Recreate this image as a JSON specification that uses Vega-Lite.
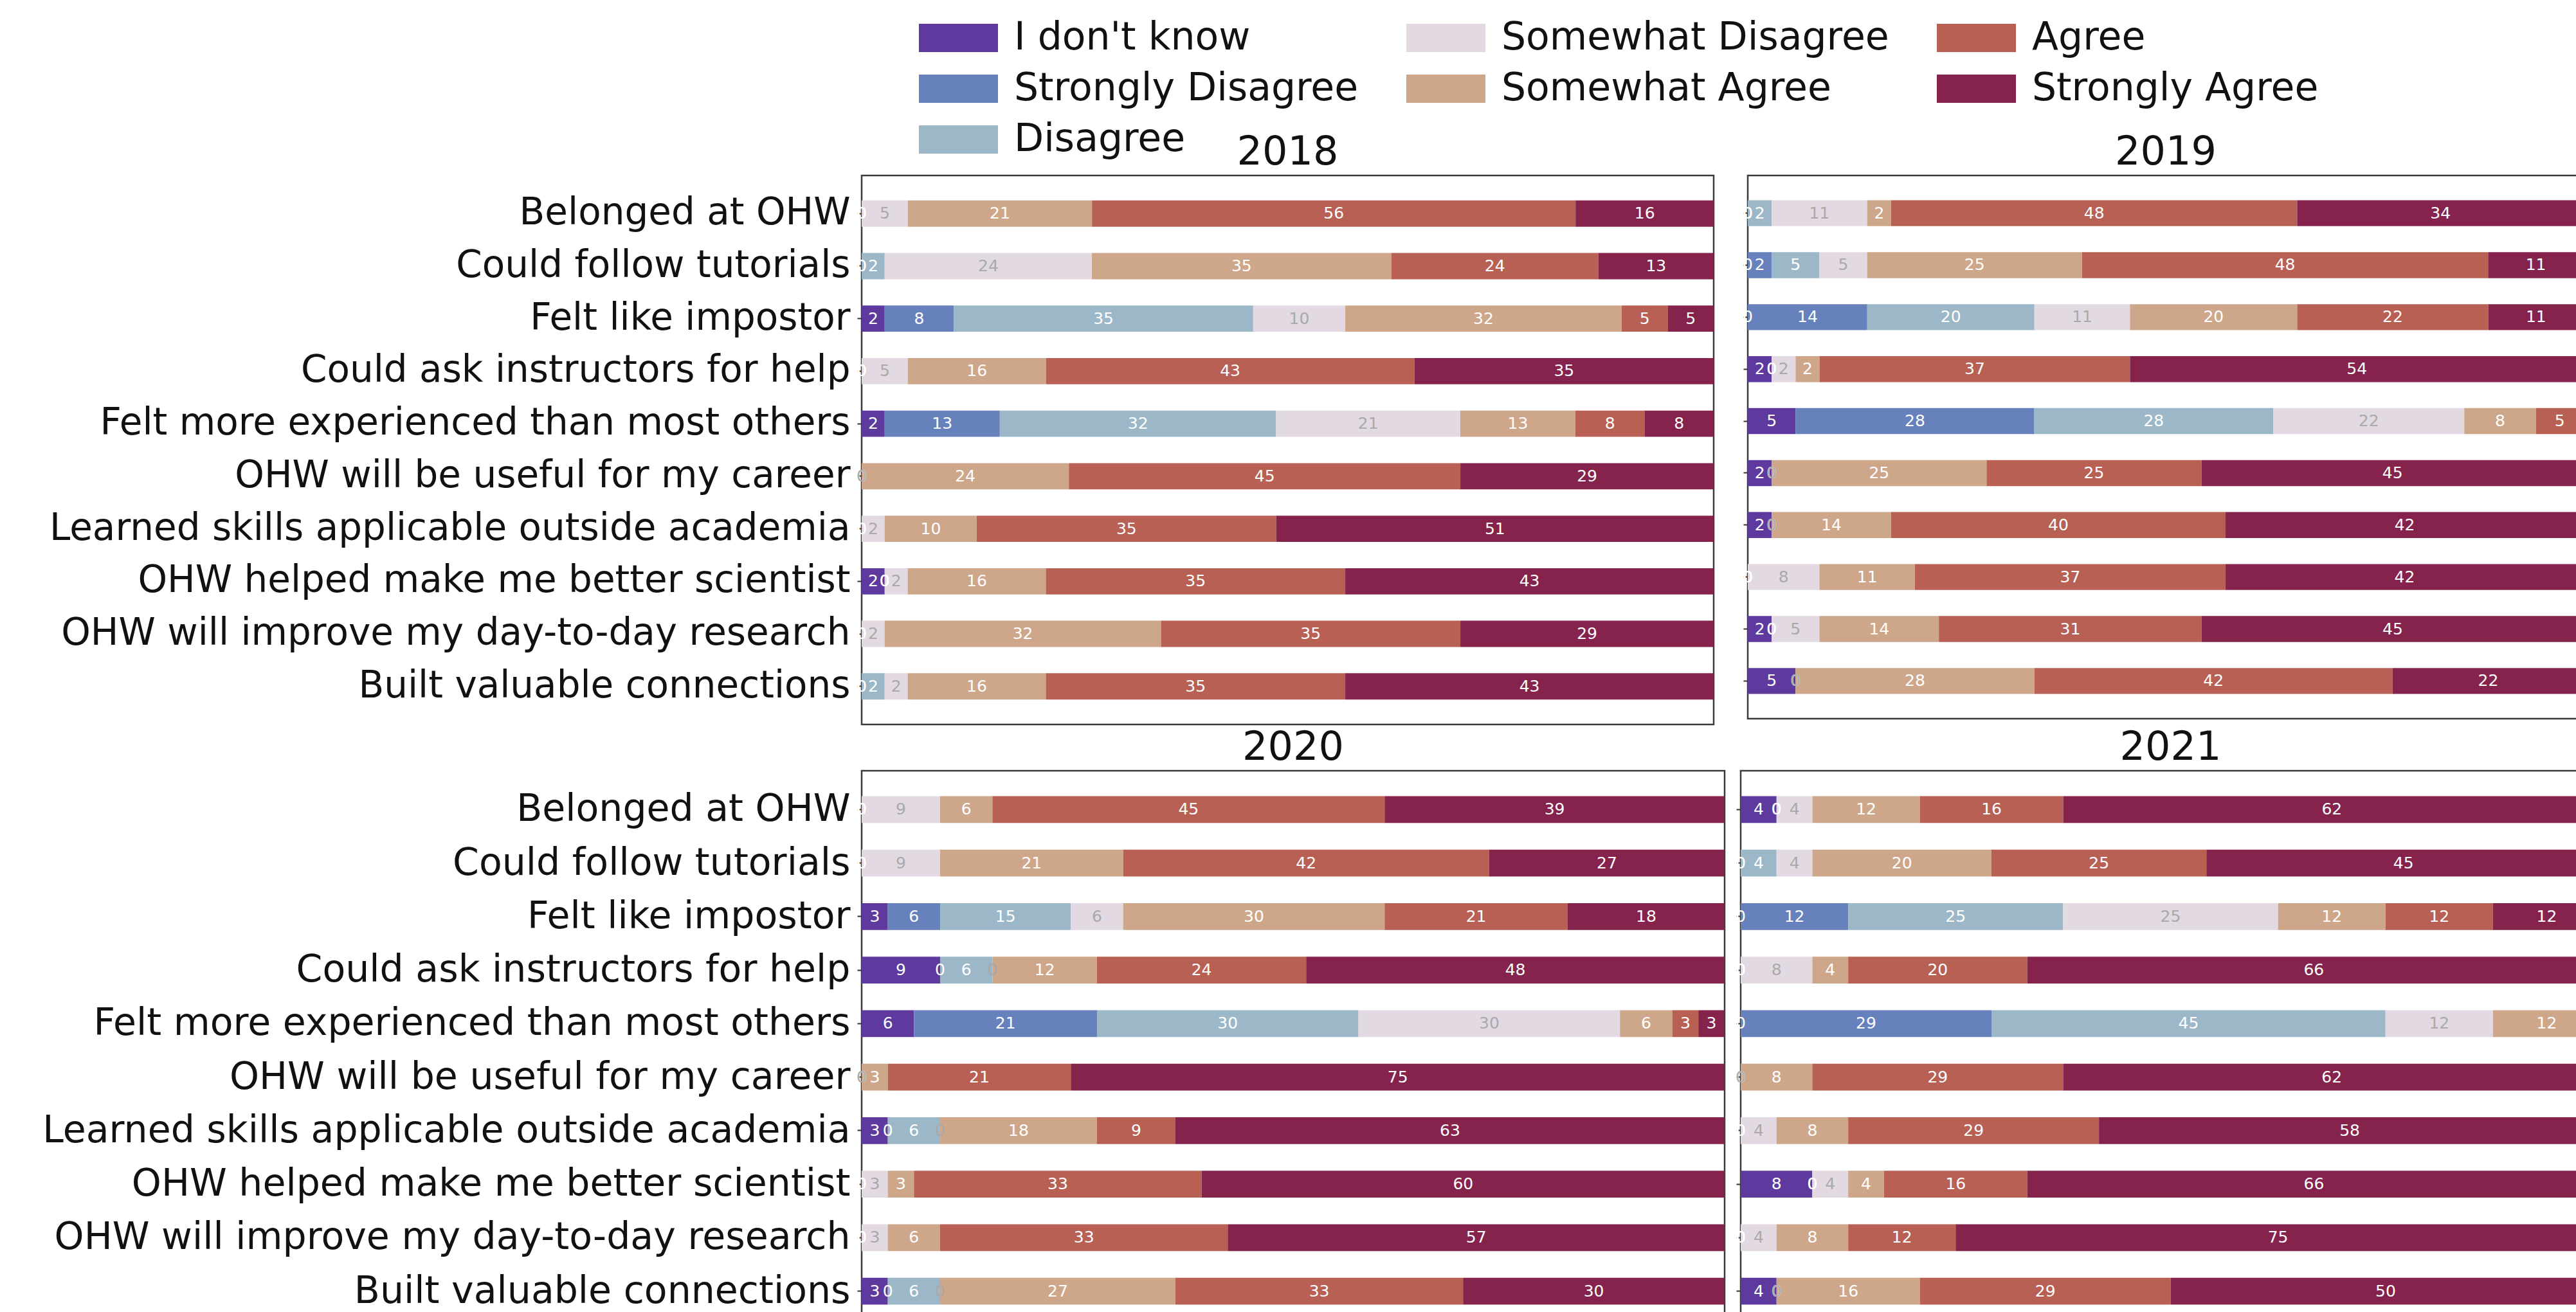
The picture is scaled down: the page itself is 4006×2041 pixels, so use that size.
{
  "$schema": "https://vega.github.io/schema/vega-lite/v6.json",
  "background": "white",
  "padding": {"left": 64, "top": 29, "right": 0, "bottom": 0},
  "datasets": {
    "ranks": [
      {"c": "I don't know", "k": 0},
      {"c": "Strongly Disagree", "k": 1},
      {"c": "Disagree", "k": 2},
      {"c": "Somewhat Disagree", "k": 3},
      {"c": "Somewhat Agree", "k": 4},
      {"c": "Agree", "k": 5},
      {"c": "Strongly Agree", "k": 6}
    ],
    "survey": [
      {"yr":2018,"q":"Belonged at OHW","c":"I don't know","v":0,"l":0},
      {"yr":2018,"q":"Belonged at OHW","c":"Strongly Disagree","v":0,"l":0},
      {"yr":2018,"q":"Belonged at OHW","c":"Disagree","v":0,"l":0},
      {"yr":2018,"q":"Belonged at OHW","c":"Somewhat Disagree","v":5.41,"l":5},
      {"yr":2018,"q":"Belonged at OHW","c":"Somewhat Agree","v":21.62,"l":21},
      {"yr":2018,"q":"Belonged at OHW","c":"Agree","v":56.76,"l":56},
      {"yr":2018,"q":"Belonged at OHW","c":"Strongly Agree","v":16.22,"l":16},
      {"yr":2018,"q":"Could follow tutorials","c":"I don't know","v":0,"l":0},
      {"yr":2018,"q":"Could follow tutorials","c":"Strongly Disagree","v":0,"l":0},
      {"yr":2018,"q":"Could follow tutorials","c":"Disagree","v":2.70,"l":2},
      {"yr":2018,"q":"Could follow tutorials","c":"Somewhat Disagree","v":24.32,"l":24},
      {"yr":2018,"q":"Could follow tutorials","c":"Somewhat Agree","v":35.14,"l":35},
      {"yr":2018,"q":"Could follow tutorials","c":"Agree","v":24.32,"l":24},
      {"yr":2018,"q":"Could follow tutorials","c":"Strongly Agree","v":13.51,"l":13},
      {"yr":2018,"q":"Felt like impostor","c":"I don't know","v":2.70,"l":2},
      {"yr":2018,"q":"Felt like impostor","c":"Strongly Disagree","v":8.11,"l":8},
      {"yr":2018,"q":"Felt like impostor","c":"Disagree","v":35.14,"l":35},
      {"yr":2018,"q":"Felt like impostor","c":"Somewhat Disagree","v":10.81,"l":10},
      {"yr":2018,"q":"Felt like impostor","c":"Somewhat Agree","v":32.43,"l":32},
      {"yr":2018,"q":"Felt like impostor","c":"Agree","v":5.41,"l":5},
      {"yr":2018,"q":"Felt like impostor","c":"Strongly Agree","v":5.41,"l":5},
      {"yr":2018,"q":"Could ask instructors for help","c":"I don't know","v":0,"l":0},
      {"yr":2018,"q":"Could ask instructors for help","c":"Strongly Disagree","v":0,"l":0},
      {"yr":2018,"q":"Could ask instructors for help","c":"Disagree","v":0,"l":0},
      {"yr":2018,"q":"Could ask instructors for help","c":"Somewhat Disagree","v":5.41,"l":5},
      {"yr":2018,"q":"Could ask instructors for help","c":"Somewhat Agree","v":16.22,"l":16},
      {"yr":2018,"q":"Could ask instructors for help","c":"Agree","v":43.24,"l":43},
      {"yr":2018,"q":"Could ask instructors for help","c":"Strongly Agree","v":35.14,"l":35},
      {"yr":2018,"q":"Felt more experienced than most others","c":"I don't know","v":2.70,"l":2},
      {"yr":2018,"q":"Felt more experienced than most others","c":"Strongly Disagree","v":13.51,"l":13},
      {"yr":2018,"q":"Felt more experienced than most others","c":"Disagree","v":32.43,"l":32},
      {"yr":2018,"q":"Felt more experienced than most others","c":"Somewhat Disagree","v":21.62,"l":21},
      {"yr":2018,"q":"Felt more experienced than most others","c":"Somewhat Agree","v":13.51,"l":13},
      {"yr":2018,"q":"Felt more experienced than most others","c":"Agree","v":8.11,"l":8},
      {"yr":2018,"q":"Felt more experienced than most others","c":"Strongly Agree","v":8.11,"l":8},
      {"yr":2018,"q":"OHW will be useful for my career","c":"I don't know","v":0,"l":0},
      {"yr":2018,"q":"OHW will be useful for my career","c":"Strongly Disagree","v":0,"l":0},
      {"yr":2018,"q":"OHW will be useful for my career","c":"Disagree","v":0,"l":0},
      {"yr":2018,"q":"OHW will be useful for my career","c":"Somewhat Disagree","v":0,"l":0},
      {"yr":2018,"q":"OHW will be useful for my career","c":"Somewhat Agree","v":24.32,"l":24},
      {"yr":2018,"q":"OHW will be useful for my career","c":"Agree","v":45.95,"l":45},
      {"yr":2018,"q":"OHW will be useful for my career","c":"Strongly Agree","v":29.73,"l":29},
      {"yr":2018,"q":"Learned skills applicable outside academia","c":"I don't know","v":0,"l":0},
      {"yr":2018,"q":"Learned skills applicable outside academia","c":"Strongly Disagree","v":0,"l":0},
      {"yr":2018,"q":"Learned skills applicable outside academia","c":"Disagree","v":0,"l":0},
      {"yr":2018,"q":"Learned skills applicable outside academia","c":"Somewhat Disagree","v":2.70,"l":2},
      {"yr":2018,"q":"Learned skills applicable outside academia","c":"Somewhat Agree","v":10.81,"l":10},
      {"yr":2018,"q":"Learned skills applicable outside academia","c":"Agree","v":35.14,"l":35},
      {"yr":2018,"q":"Learned skills applicable outside academia","c":"Strongly Agree","v":51.35,"l":51},
      {"yr":2018,"q":"OHW helped make me better scientist","c":"I don't know","v":2.70,"l":2},
      {"yr":2018,"q":"OHW helped make me better scientist","c":"Strongly Disagree","v":0,"l":0},
      {"yr":2018,"q":"OHW helped make me better scientist","c":"Disagree","v":0,"l":0},
      {"yr":2018,"q":"OHW helped make me better scientist","c":"Somewhat Disagree","v":2.70,"l":2},
      {"yr":2018,"q":"OHW helped make me better scientist","c":"Somewhat Agree","v":16.22,"l":16},
      {"yr":2018,"q":"OHW helped make me better scientist","c":"Agree","v":35.14,"l":35},
      {"yr":2018,"q":"OHW helped make me better scientist","c":"Strongly Agree","v":43.24,"l":43},
      {"yr":2018,"q":"OHW will improve my day-to-day research","c":"I don't know","v":0,"l":0},
      {"yr":2018,"q":"OHW will improve my day-to-day research","c":"Strongly Disagree","v":0,"l":0},
      {"yr":2018,"q":"OHW will improve my day-to-day research","c":"Disagree","v":0,"l":0},
      {"yr":2018,"q":"OHW will improve my day-to-day research","c":"Somewhat Disagree","v":2.70,"l":2},
      {"yr":2018,"q":"OHW will improve my day-to-day research","c":"Somewhat Agree","v":32.43,"l":32},
      {"yr":2018,"q":"OHW will improve my day-to-day research","c":"Agree","v":35.14,"l":35},
      {"yr":2018,"q":"OHW will improve my day-to-day research","c":"Strongly Agree","v":29.73,"l":29},
      {"yr":2018,"q":"Built valuable connections","c":"I don't know","v":0,"l":0},
      {"yr":2018,"q":"Built valuable connections","c":"Strongly Disagree","v":0,"l":0},
      {"yr":2018,"q":"Built valuable connections","c":"Disagree","v":2.70,"l":2},
      {"yr":2018,"q":"Built valuable connections","c":"Somewhat Disagree","v":2.70,"l":2},
      {"yr":2018,"q":"Built valuable connections","c":"Somewhat Agree","v":16.22,"l":16},
      {"yr":2018,"q":"Built valuable connections","c":"Agree","v":35.14,"l":35},
      {"yr":2018,"q":"Built valuable connections","c":"Strongly Agree","v":43.24,"l":43},

      {"yr":2019,"q":"Belonged at OHW","c":"I don't know","v":0,"l":0},
      {"yr":2019,"q":"Belonged at OHW","c":"Strongly Disagree","v":0,"l":0},
      {"yr":2019,"q":"Belonged at OHW","c":"Disagree","v":2.86,"l":2},
      {"yr":2019,"q":"Belonged at OHW","c":"Somewhat Disagree","v":11.43,"l":11},
      {"yr":2019,"q":"Belonged at OHW","c":"Somewhat Agree","v":2.86,"l":2},
      {"yr":2019,"q":"Belonged at OHW","c":"Agree","v":48.57,"l":48},
      {"yr":2019,"q":"Belonged at OHW","c":"Strongly Agree","v":34.29,"l":34},
      {"yr":2019,"q":"Could follow tutorials","c":"I don't know","v":0,"l":0},
      {"yr":2019,"q":"Could follow tutorials","c":"Strongly Disagree","v":2.86,"l":2},
      {"yr":2019,"q":"Could follow tutorials","c":"Disagree","v":5.71,"l":5},
      {"yr":2019,"q":"Could follow tutorials","c":"Somewhat Disagree","v":5.71,"l":5},
      {"yr":2019,"q":"Could follow tutorials","c":"Somewhat Agree","v":25.71,"l":25},
      {"yr":2019,"q":"Could follow tutorials","c":"Agree","v":48.57,"l":48},
      {"yr":2019,"q":"Could follow tutorials","c":"Strongly Agree","v":11.43,"l":11},
      {"yr":2019,"q":"Felt like impostor","c":"I don't know","v":0,"l":0},
      {"yr":2019,"q":"Felt like impostor","c":"Strongly Disagree","v":14.29,"l":14},
      {"yr":2019,"q":"Felt like impostor","c":"Disagree","v":20.00,"l":20},
      {"yr":2019,"q":"Felt like impostor","c":"Somewhat Disagree","v":11.43,"l":11},
      {"yr":2019,"q":"Felt like impostor","c":"Somewhat Agree","v":20.00,"l":20},
      {"yr":2019,"q":"Felt like impostor","c":"Agree","v":22.86,"l":22},
      {"yr":2019,"q":"Felt like impostor","c":"Strongly Agree","v":11.43,"l":11},
      {"yr":2019,"q":"Could ask instructors for help","c":"I don't know","v":2.86,"l":2},
      {"yr":2019,"q":"Could ask instructors for help","c":"Strongly Disagree","v":0,"l":0},
      {"yr":2019,"q":"Could ask instructors for help","c":"Disagree","v":0,"l":0},
      {"yr":2019,"q":"Could ask instructors for help","c":"Somewhat Disagree","v":2.86,"l":2},
      {"yr":2019,"q":"Could ask instructors for help","c":"Somewhat Agree","v":2.86,"l":2},
      {"yr":2019,"q":"Could ask instructors for help","c":"Agree","v":37.14,"l":37},
      {"yr":2019,"q":"Could ask instructors for help","c":"Strongly Agree","v":54.29,"l":54},
      {"yr":2019,"q":"Felt more experienced than most others","c":"I don't know","v":5.71,"l":5},
      {"yr":2019,"q":"Felt more experienced than most others","c":"Strongly Disagree","v":28.57,"l":28},
      {"yr":2019,"q":"Felt more experienced than most others","c":"Disagree","v":28.57,"l":28},
      {"yr":2019,"q":"Felt more experienced than most others","c":"Somewhat Disagree","v":22.86,"l":22},
      {"yr":2019,"q":"Felt more experienced than most others","c":"Somewhat Agree","v":8.57,"l":8},
      {"yr":2019,"q":"Felt more experienced than most others","c":"Agree","v":5.71,"l":5},
      {"yr":2019,"q":"Felt more experienced than most others","c":"Strongly Agree","v":0,"l":0},
      {"yr":2019,"q":"OHW will be useful for my career","c":"I don't know","v":2.86,"l":2},
      {"yr":2019,"q":"OHW will be useful for my career","c":"Strongly Disagree","v":0,"l":0},
      {"yr":2019,"q":"OHW will be useful for my career","c":"Disagree","v":0,"l":0},
      {"yr":2019,"q":"OHW will be useful for my career","c":"Somewhat Disagree","v":0,"l":0},
      {"yr":2019,"q":"OHW will be useful for my career","c":"Somewhat Agree","v":25.71,"l":25},
      {"yr":2019,"q":"OHW will be useful for my career","c":"Agree","v":25.71,"l":25},
      {"yr":2019,"q":"OHW will be useful for my career","c":"Strongly Agree","v":45.71,"l":45},
      {"yr":2019,"q":"Learned skills applicable outside academia","c":"I don't know","v":2.86,"l":2},
      {"yr":2019,"q":"Learned skills applicable outside academia","c":"Strongly Disagree","v":0,"l":0},
      {"yr":2019,"q":"Learned skills applicable outside academia","c":"Disagree","v":0,"l":0},
      {"yr":2019,"q":"Learned skills applicable outside academia","c":"Somewhat Disagree","v":0,"l":0},
      {"yr":2019,"q":"Learned skills applicable outside academia","c":"Somewhat Agree","v":14.29,"l":14},
      {"yr":2019,"q":"Learned skills applicable outside academia","c":"Agree","v":40.00,"l":40},
      {"yr":2019,"q":"Learned skills applicable outside academia","c":"Strongly Agree","v":42.86,"l":42},
      {"yr":2019,"q":"OHW helped make me better scientist","c":"I don't know","v":0,"l":0},
      {"yr":2019,"q":"OHW helped make me better scientist","c":"Strongly Disagree","v":0,"l":0},
      {"yr":2019,"q":"OHW helped make me better scientist","c":"Disagree","v":0,"l":0},
      {"yr":2019,"q":"OHW helped make me better scientist","c":"Somewhat Disagree","v":8.57,"l":8},
      {"yr":2019,"q":"OHW helped make me better scientist","c":"Somewhat Agree","v":11.43,"l":11},
      {"yr":2019,"q":"OHW helped make me better scientist","c":"Agree","v":37.14,"l":37},
      {"yr":2019,"q":"OHW helped make me better scientist","c":"Strongly Agree","v":42.86,"l":42},
      {"yr":2019,"q":"OHW will improve my day-to-day research","c":"I don't know","v":2.86,"l":2},
      {"yr":2019,"q":"OHW will improve my day-to-day research","c":"Strongly Disagree","v":0,"l":0},
      {"yr":2019,"q":"OHW will improve my day-to-day research","c":"Disagree","v":0,"l":0},
      {"yr":2019,"q":"OHW will improve my day-to-day research","c":"Somewhat Disagree","v":5.71,"l":5},
      {"yr":2019,"q":"OHW will improve my day-to-day research","c":"Somewhat Agree","v":14.29,"l":14},
      {"yr":2019,"q":"OHW will improve my day-to-day research","c":"Agree","v":31.43,"l":31},
      {"yr":2019,"q":"OHW will improve my day-to-day research","c":"Strongly Agree","v":45.71,"l":45},
      {"yr":2019,"q":"Built valuable connections","c":"I don't know","v":5.71,"l":5},
      {"yr":2019,"q":"Built valuable connections","c":"Strongly Disagree","v":0,"l":0},
      {"yr":2019,"q":"Built valuable connections","c":"Disagree","v":0,"l":0},
      {"yr":2019,"q":"Built valuable connections","c":"Somewhat Disagree","v":0,"l":0},
      {"yr":2019,"q":"Built valuable connections","c":"Somewhat Agree","v":28.57,"l":28},
      {"yr":2019,"q":"Built valuable connections","c":"Agree","v":42.86,"l":42},
      {"yr":2019,"q":"Built valuable connections","c":"Strongly Agree","v":22.86,"l":22},

      {"yr":2020,"q":"Belonged at OHW","c":"I don't know","v":0,"l":0},
      {"yr":2020,"q":"Belonged at OHW","c":"Strongly Disagree","v":0,"l":0},
      {"yr":2020,"q":"Belonged at OHW","c":"Disagree","v":0,"l":0},
      {"yr":2020,"q":"Belonged at OHW","c":"Somewhat Disagree","v":9.09,"l":9},
      {"yr":2020,"q":"Belonged at OHW","c":"Somewhat Agree","v":6.06,"l":6},
      {"yr":2020,"q":"Belonged at OHW","c":"Agree","v":45.45,"l":45},
      {"yr":2020,"q":"Belonged at OHW","c":"Strongly Agree","v":39.39,"l":39},
      {"yr":2020,"q":"Could follow tutorials","c":"I don't know","v":0,"l":0},
      {"yr":2020,"q":"Could follow tutorials","c":"Strongly Disagree","v":0,"l":0},
      {"yr":2020,"q":"Could follow tutorials","c":"Disagree","v":0,"l":0},
      {"yr":2020,"q":"Could follow tutorials","c":"Somewhat Disagree","v":9.09,"l":9},
      {"yr":2020,"q":"Could follow tutorials","c":"Somewhat Agree","v":21.21,"l":21},
      {"yr":2020,"q":"Could follow tutorials","c":"Agree","v":42.42,"l":42},
      {"yr":2020,"q":"Could follow tutorials","c":"Strongly Agree","v":27.27,"l":27},
      {"yr":2020,"q":"Felt like impostor","c":"I don't know","v":3.03,"l":3},
      {"yr":2020,"q":"Felt like impostor","c":"Strongly Disagree","v":6.06,"l":6},
      {"yr":2020,"q":"Felt like impostor","c":"Disagree","v":15.15,"l":15},
      {"yr":2020,"q":"Felt like impostor","c":"Somewhat Disagree","v":6.06,"l":6},
      {"yr":2020,"q":"Felt like impostor","c":"Somewhat Agree","v":30.30,"l":30},
      {"yr":2020,"q":"Felt like impostor","c":"Agree","v":21.21,"l":21},
      {"yr":2020,"q":"Felt like impostor","c":"Strongly Agree","v":18.18,"l":18},
      {"yr":2020,"q":"Could ask instructors for help","c":"I don't know","v":9.09,"l":9},
      {"yr":2020,"q":"Could ask instructors for help","c":"Strongly Disagree","v":0,"l":0},
      {"yr":2020,"q":"Could ask instructors for help","c":"Disagree","v":6.06,"l":6},
      {"yr":2020,"q":"Could ask instructors for help","c":"Somewhat Disagree","v":0,"l":0},
      {"yr":2020,"q":"Could ask instructors for help","c":"Somewhat Agree","v":12.12,"l":12},
      {"yr":2020,"q":"Could ask instructors for help","c":"Agree","v":24.24,"l":24},
      {"yr":2020,"q":"Could ask instructors for help","c":"Strongly Agree","v":48.48,"l":48},
      {"yr":2020,"q":"Felt more experienced than most others","c":"I don't know","v":6.06,"l":6},
      {"yr":2020,"q":"Felt more experienced than most others","c":"Strongly Disagree","v":21.21,"l":21},
      {"yr":2020,"q":"Felt more experienced than most others","c":"Disagree","v":30.30,"l":30},
      {"yr":2020,"q":"Felt more experienced than most others","c":"Somewhat Disagree","v":30.30,"l":30},
      {"yr":2020,"q":"Felt more experienced than most others","c":"Somewhat Agree","v":6.06,"l":6},
      {"yr":2020,"q":"Felt more experienced than most others","c":"Agree","v":3.03,"l":3},
      {"yr":2020,"q":"Felt more experienced than most others","c":"Strongly Agree","v":3.03,"l":3},
      {"yr":2020,"q":"OHW will be useful for my career","c":"I don't know","v":0,"l":0},
      {"yr":2020,"q":"OHW will be useful for my career","c":"Strongly Disagree","v":0,"l":0},
      {"yr":2020,"q":"OHW will be useful for my career","c":"Disagree","v":0,"l":0},
      {"yr":2020,"q":"OHW will be useful for my career","c":"Somewhat Disagree","v":0,"l":0},
      {"yr":2020,"q":"OHW will be useful for my career","c":"Somewhat Agree","v":3.03,"l":3},
      {"yr":2020,"q":"OHW will be useful for my career","c":"Agree","v":21.21,"l":21},
      {"yr":2020,"q":"OHW will be useful for my career","c":"Strongly Agree","v":75.76,"l":75},
      {"yr":2020,"q":"Learned skills applicable outside academia","c":"I don't know","v":3.03,"l":3},
      {"yr":2020,"q":"Learned skills applicable outside academia","c":"Strongly Disagree","v":0,"l":0},
      {"yr":2020,"q":"Learned skills applicable outside academia","c":"Disagree","v":6.06,"l":6},
      {"yr":2020,"q":"Learned skills applicable outside academia","c":"Somewhat Disagree","v":0,"l":0},
      {"yr":2020,"q":"Learned skills applicable outside academia","c":"Somewhat Agree","v":18.18,"l":18},
      {"yr":2020,"q":"Learned skills applicable outside academia","c":"Agree","v":9.09,"l":9},
      {"yr":2020,"q":"Learned skills applicable outside academia","c":"Strongly Agree","v":63.64,"l":63},
      {"yr":2020,"q":"OHW helped make me better scientist","c":"I don't know","v":0,"l":0},
      {"yr":2020,"q":"OHW helped make me better scientist","c":"Strongly Disagree","v":0,"l":0},
      {"yr":2020,"q":"OHW helped make me better scientist","c":"Disagree","v":0,"l":0},
      {"yr":2020,"q":"OHW helped make me better scientist","c":"Somewhat Disagree","v":3.03,"l":3},
      {"yr":2020,"q":"OHW helped make me better scientist","c":"Somewhat Agree","v":3.03,"l":3},
      {"yr":2020,"q":"OHW helped make me better scientist","c":"Agree","v":33.33,"l":33},
      {"yr":2020,"q":"OHW helped make me better scientist","c":"Strongly Agree","v":60.61,"l":60},
      {"yr":2020,"q":"OHW will improve my day-to-day research","c":"I don't know","v":0,"l":0},
      {"yr":2020,"q":"OHW will improve my day-to-day research","c":"Strongly Disagree","v":0,"l":0},
      {"yr":2020,"q":"OHW will improve my day-to-day research","c":"Disagree","v":0,"l":0},
      {"yr":2020,"q":"OHW will improve my day-to-day research","c":"Somewhat Disagree","v":3.03,"l":3},
      {"yr":2020,"q":"OHW will improve my day-to-day research","c":"Somewhat Agree","v":6.06,"l":6},
      {"yr":2020,"q":"OHW will improve my day-to-day research","c":"Agree","v":33.33,"l":33},
      {"yr":2020,"q":"OHW will improve my day-to-day research","c":"Strongly Agree","v":57.58,"l":57},
      {"yr":2020,"q":"Built valuable connections","c":"I don't know","v":3.03,"l":3},
      {"yr":2020,"q":"Built valuable connections","c":"Strongly Disagree","v":0,"l":0},
      {"yr":2020,"q":"Built valuable connections","c":"Disagree","v":6.06,"l":6},
      {"yr":2020,"q":"Built valuable connections","c":"Somewhat Disagree","v":0,"l":0},
      {"yr":2020,"q":"Built valuable connections","c":"Somewhat Agree","v":27.27,"l":27},
      {"yr":2020,"q":"Built valuable connections","c":"Agree","v":33.33,"l":33},
      {"yr":2020,"q":"Built valuable connections","c":"Strongly Agree","v":30.30,"l":30},

      {"yr":2021,"q":"Belonged at OHW","c":"I don't know","v":4.17,"l":4},
      {"yr":2021,"q":"Belonged at OHW","c":"Strongly Disagree","v":0,"l":0},
      {"yr":2021,"q":"Belonged at OHW","c":"Disagree","v":0,"l":0},
      {"yr":2021,"q":"Belonged at OHW","c":"Somewhat Disagree","v":4.17,"l":4},
      {"yr":2021,"q":"Belonged at OHW","c":"Somewhat Agree","v":12.50,"l":12},
      {"yr":2021,"q":"Belonged at OHW","c":"Agree","v":16.67,"l":16},
      {"yr":2021,"q":"Belonged at OHW","c":"Strongly Agree","v":62.50,"l":62},
      {"yr":2021,"q":"Could follow tutorials","c":"I don't know","v":0,"l":0},
      {"yr":2021,"q":"Could follow tutorials","c":"Strongly Disagree","v":0,"l":0},
      {"yr":2021,"q":"Could follow tutorials","c":"Disagree","v":4.17,"l":4},
      {"yr":2021,"q":"Could follow tutorials","c":"Somewhat Disagree","v":4.17,"l":4},
      {"yr":2021,"q":"Could follow tutorials","c":"Somewhat Agree","v":20.83,"l":20},
      {"yr":2021,"q":"Could follow tutorials","c":"Agree","v":25.00,"l":25},
      {"yr":2021,"q":"Could follow tutorials","c":"Strongly Agree","v":45.83,"l":45},
      {"yr":2021,"q":"Felt like impostor","c":"I don't know","v":0,"l":0},
      {"yr":2021,"q":"Felt like impostor","c":"Strongly Disagree","v":12.50,"l":12},
      {"yr":2021,"q":"Felt like impostor","c":"Disagree","v":25.00,"l":25},
      {"yr":2021,"q":"Felt like impostor","c":"Somewhat Disagree","v":25.00,"l":25},
      {"yr":2021,"q":"Felt like impostor","c":"Somewhat Agree","v":12.50,"l":12},
      {"yr":2021,"q":"Felt like impostor","c":"Agree","v":12.50,"l":12},
      {"yr":2021,"q":"Felt like impostor","c":"Strongly Agree","v":12.50,"l":12},
      {"yr":2021,"q":"Could ask instructors for help","c":"I don't know","v":0,"l":0},
      {"yr":2021,"q":"Could ask instructors for help","c":"Strongly Disagree","v":0,"l":0},
      {"yr":2021,"q":"Could ask instructors for help","c":"Disagree","v":0,"l":0},
      {"yr":2021,"q":"Could ask instructors for help","c":"Somewhat Disagree","v":8.33,"l":8},
      {"yr":2021,"q":"Could ask instructors for help","c":"Somewhat Agree","v":4.17,"l":4},
      {"yr":2021,"q":"Could ask instructors for help","c":"Agree","v":20.83,"l":20},
      {"yr":2021,"q":"Could ask instructors for help","c":"Strongly Agree","v":66.67,"l":66},
      {"yr":2021,"q":"Felt more experienced than most others","c":"I don't know","v":0,"l":0},
      {"yr":2021,"q":"Felt more experienced than most others","c":"Strongly Disagree","v":29.17,"l":29},
      {"yr":2021,"q":"Felt more experienced than most others","c":"Disagree","v":45.83,"l":45},
      {"yr":2021,"q":"Felt more experienced than most others","c":"Somewhat Disagree","v":12.50,"l":12},
      {"yr":2021,"q":"Felt more experienced than most others","c":"Somewhat Agree","v":12.50,"l":12},
      {"yr":2021,"q":"Felt more experienced than most others","c":"Agree","v":0,"l":0},
      {"yr":2021,"q":"Felt more experienced than most others","c":"Strongly Agree","v":0,"l":0},
      {"yr":2021,"q":"OHW will be useful for my career","c":"I don't know","v":0,"l":0},
      {"yr":2021,"q":"OHW will be useful for my career","c":"Strongly Disagree","v":0,"l":0},
      {"yr":2021,"q":"OHW will be useful for my career","c":"Disagree","v":0,"l":0},
      {"yr":2021,"q":"OHW will be useful for my career","c":"Somewhat Disagree","v":0,"l":0},
      {"yr":2021,"q":"OHW will be useful for my career","c":"Somewhat Agree","v":8.33,"l":8},
      {"yr":2021,"q":"OHW will be useful for my career","c":"Agree","v":29.17,"l":29},
      {"yr":2021,"q":"OHW will be useful for my career","c":"Strongly Agree","v":62.50,"l":62},
      {"yr":2021,"q":"Learned skills applicable outside academia","c":"I don't know","v":0,"l":0},
      {"yr":2021,"q":"Learned skills applicable outside academia","c":"Strongly Disagree","v":0,"l":0},
      {"yr":2021,"q":"Learned skills applicable outside academia","c":"Disagree","v":0,"l":0},
      {"yr":2021,"q":"Learned skills applicable outside academia","c":"Somewhat Disagree","v":4.17,"l":4},
      {"yr":2021,"q":"Learned skills applicable outside academia","c":"Somewhat Agree","v":8.33,"l":8},
      {"yr":2021,"q":"Learned skills applicable outside academia","c":"Agree","v":29.17,"l":29},
      {"yr":2021,"q":"Learned skills applicable outside academia","c":"Strongly Agree","v":58.33,"l":58},
      {"yr":2021,"q":"OHW helped make me better scientist","c":"I don't know","v":8.33,"l":8},
      {"yr":2021,"q":"OHW helped make me better scientist","c":"Strongly Disagree","v":0,"l":0},
      {"yr":2021,"q":"OHW helped make me better scientist","c":"Disagree","v":0,"l":0},
      {"yr":2021,"q":"OHW helped make me better scientist","c":"Somewhat Disagree","v":4.17,"l":4},
      {"yr":2021,"q":"OHW helped make me better scientist","c":"Somewhat Agree","v":4.17,"l":4},
      {"yr":2021,"q":"OHW helped make me better scientist","c":"Agree","v":16.67,"l":16},
      {"yr":2021,"q":"OHW helped make me better scientist","c":"Strongly Agree","v":66.67,"l":66},
      {"yr":2021,"q":"OHW will improve my day-to-day research","c":"I don't know","v":0,"l":0},
      {"yr":2021,"q":"OHW will improve my day-to-day research","c":"Strongly Disagree","v":0,"l":0},
      {"yr":2021,"q":"OHW will improve my day-to-day research","c":"Disagree","v":0,"l":0},
      {"yr":2021,"q":"OHW will improve my day-to-day research","c":"Somewhat Disagree","v":4.17,"l":4},
      {"yr":2021,"q":"OHW will improve my day-to-day research","c":"Somewhat Agree","v":8.33,"l":8},
      {"yr":2021,"q":"OHW will improve my day-to-day research","c":"Agree","v":12.50,"l":12},
      {"yr":2021,"q":"OHW will improve my day-to-day research","c":"Strongly Agree","v":75.00,"l":75},
      {"yr":2021,"q":"Built valuable connections","c":"I don't know","v":4.17,"l":4},
      {"yr":2021,"q":"Built valuable connections","c":"Strongly Disagree","v":0,"l":0},
      {"yr":2021,"q":"Built valuable connections","c":"Disagree","v":0,"l":0},
      {"yr":2021,"q":"Built valuable connections","c":"Somewhat Disagree","v":0,"l":0},
      {"yr":2021,"q":"Built valuable connections","c":"Somewhat Agree","v":16.67,"l":16},
      {"yr":2021,"q":"Built valuable connections","c":"Agree","v":29.17,"l":29},
      {"yr":2021,"q":"Built valuable connections","c":"Strongly Agree","v":50.00,"l":50}
    ]
  },
  "data": {"name": "survey"},
  "spacing": 1,
  "vconcat": [
    {
      "spacing": 41,
      "hconcat": [
        {
          "width": 1325, "height": 854,
          "title": {"text": "2018"},
          "transform": [
            {"filter": "datum.yr == 2018"},
            {"lookup": "c", "from": {"data": {"name": "ranks"}, "key": "c", "fields": ["k"]}}
          ],
          "encoding": {
            "y": {"field": "q", "type": "nominal",
              "sort": ["Belonged at OHW","Could follow tutorials","Felt like impostor","Could ask instructors for help","Felt more experienced than most others","OHW will be useful for my career","Learned skills applicable outside academia","OHW helped make me better scientist","OHW will improve my day-to-day research","Built valuable connections"],
              "scale": {"paddingInner": 0.5, "paddingOuter": 0.475},
              "axis": {"title": ".", "titleColor": "white", "titleFontSize": 10, "titlePadding": 30, "labelFontSize": 58}},
            "order": {"field": "k", "type": "quantitative"}
          },
          "layer": [
            {"mark": {"type": "bar"},
             "encoding": {
               "x": {"field": "v", "type": "quantitative", "stack": "zero", "scale": {"domain": [0, 100], "nice": false}, "axis": null},
               "color": {"field": "c", "type": "nominal",
                 "scale": {"domain": ["I don't know","Strongly Disagree","Strongly Agree","Somewhat Disagree","Somewhat Agree","Disagree","Agree"],
                           "range": ["#5e3a9e","#6781bd","#85234c","#e2d9e2","#cea78b","#9cb8c8","#b86053"]},
                 "legend": {"title": null, "orient": "none", "legendX": 89, "legendY": -244, "columns": 3,
                   "symbolType": "M-1,-0.358L1,-0.358L1,0.358L-1,0.358Z", "symbolSize": 15129, "symbolStrokeWidth": 0, "symbolOpacity": 1,
                   "labelFont": "DejaVu Sans", "labelFontSize": 60, "labelColor": "#111", "labelOffset": 25, "labelLimit": 2000,
                   "columnPadding": 74, "rowPadding": 19, "clipHeight": 60, "padding": 0}}
             }},
            {"mark": {"type": "text", "font": "DejaVu Sans", "fontSize": 25, "baseline": "middle", "align": "center"},
             "encoding": {
               "x": {"field": "v", "type": "quantitative", "stack": "zero", "bandPosition": 0.5, "scale": {"domain": [0, 100], "nice": false}, "axis": null},
               "detail": {"field": "c"},
               "text": {"field": "l", "type": "nominal"},
               "color": {"condition": {"test": "datum.c === 'Somewhat Disagree'", "value": "#a9a9a9"}, "value": "white"}
             }}
          ]
        },
        {
          "width": 1300, "height": 845,
          "title": {"text": "2019"},
          "transform": [
            {"filter": "datum.yr == 2019"},
            {"lookup": "c", "from": {"data": {"name": "ranks"}, "key": "c", "fields": ["k"]}}
          ],
          "encoding": {
            "y": {"field": "q", "type": "nominal",
              "sort": ["Belonged at OHW","Could follow tutorials","Felt like impostor","Could ask instructors for help","Felt more experienced than most others","OHW will be useful for my career","Learned skills applicable outside academia","OHW helped make me better scientist","OHW will improve my day-to-day research","Built valuable connections"],
              "scale": {"paddingInner": 0.5, "paddingOuter": 0.475},
              "axis": {"title": null, "labels": false}},
            "order": {"field": "k", "type": "quantitative"}
          },
          "layer": [
            {"mark": {"type": "bar"},
             "encoding": {
               "x": {"field": "v", "type": "quantitative", "stack": "zero", "scale": {"domain": [0, 100], "nice": false}, "axis": null},
               "color": {"field": "c", "type": "nominal",
                 "scale": {"domain": ["I don't know","Strongly Disagree","Strongly Agree","Somewhat Disagree","Somewhat Agree","Disagree","Agree"],
                           "range": ["#5e3a9e","#6781bd","#85234c","#e2d9e2","#cea78b","#9cb8c8","#b86053"]},
                 "legend": {"title": null, "orient": "none", "legendX": 89, "legendY": -244, "columns": 3,
                   "symbolType": "M-1,-0.358L1,-0.358L1,0.358L-1,0.358Z", "symbolSize": 15129, "symbolStrokeWidth": 0, "symbolOpacity": 1,
                   "labelFont": "DejaVu Sans", "labelFontSize": 60, "labelColor": "#111", "labelOffset": 25, "labelLimit": 2000,
                   "columnPadding": 74, "rowPadding": 19, "clipHeight": 60, "padding": 0}}
             }},
            {"mark": {"type": "text", "font": "DejaVu Sans", "fontSize": 25, "baseline": "middle", "align": "center"},
             "encoding": {
               "x": {"field": "v", "type": "quantitative", "stack": "zero", "bandPosition": 0.5, "scale": {"domain": [0, 100], "nice": false}, "axis": null},
               "detail": {"field": "c"},
               "text": {"field": "l", "type": "nominal"},
               "color": {"condition": {"test": "datum.c === 'Somewhat Disagree'", "value": "#a9a9a9"}, "value": "white"}
             }}
          ]
        }
      ]
    },
    {
      "spacing": 13,
      "hconcat": [
        {
          "width": 1342, "height": 870,
          "title": {"text": "2020"},
          "transform": [
            {"filter": "datum.yr == 2020"},
            {"lookup": "c", "from": {"data": {"name": "ranks"}, "key": "c", "fields": ["k"]}}
          ],
          "encoding": {
            "y": {"field": "q", "type": "nominal",
              "sort": ["Belonged at OHW","Could follow tutorials","Felt like impostor","Could ask instructors for help","Felt more experienced than most others","OHW will be useful for my career","Learned skills applicable outside academia","OHW helped make me better scientist","OHW will improve my day-to-day research","Built valuable connections"],
              "scale": {"paddingInner": 0.5, "paddingOuter": 0.475},
              "axis": {"title": null, "labelFontSize": 58.5}},
            "order": {"field": "k", "type": "quantitative"}
          },
          "layer": [
            {"mark": {"type": "bar"},
             "encoding": {
               "x": {"field": "v", "type": "quantitative", "stack": "zero", "scale": {"domain": [0, 100], "nice": false}, "axis": null},
               "color": {"field": "c", "type": "nominal",
                 "scale": {"domain": ["I don't know","Strongly Disagree","Strongly Agree","Somewhat Disagree","Somewhat Agree","Disagree","Agree"],
                           "range": ["#5e3a9e","#6781bd","#85234c","#e2d9e2","#cea78b","#9cb8c8","#b86053"]},
                 "legend": {"title": null, "orient": "none", "legendX": 89, "legendY": -244, "columns": 3,
                   "symbolType": "M-1,-0.358L1,-0.358L1,0.358L-1,0.358Z", "symbolSize": 15129, "symbolStrokeWidth": 0, "symbolOpacity": 1,
                   "labelFont": "DejaVu Sans", "labelFontSize": 60, "labelColor": "#111", "labelOffset": 25, "labelLimit": 2000,
                   "columnPadding": 74, "rowPadding": 19, "clipHeight": 60, "padding": 0}}
             }},
            {"mark": {"type": "text", "font": "DejaVu Sans", "fontSize": 25, "baseline": "middle", "align": "center"},
             "encoding": {
               "x": {"field": "v", "type": "quantitative", "stack": "zero", "bandPosition": 0.5, "scale": {"domain": [0, 100], "nice": false}, "axis": null},
               "detail": {"field": "c"},
               "text": {"field": "l", "type": "nominal"},
               "color": {"condition": {"test": "datum.c === 'Somewhat Disagree'", "value": "#a9a9a9"}, "value": "white"}
             }}
          ]
        },
        {
          "width": 1337, "height": 870,
          "title": {"text": "2021"},
          "transform": [
            {"filter": "datum.yr == 2021"},
            {"lookup": "c", "from": {"data": {"name": "ranks"}, "key": "c", "fields": ["k"]}}
          ],
          "encoding": {
            "y": {"field": "q", "type": "nominal",
              "sort": ["Belonged at OHW","Could follow tutorials","Felt like impostor","Could ask instructors for help","Felt more experienced than most others","OHW will be useful for my career","Learned skills applicable outside academia","OHW helped make me better scientist","OHW will improve my day-to-day research","Built valuable connections"],
              "scale": {"paddingInner": 0.5, "paddingOuter": 0.475},
              "axis": {"title": null, "labels": false}},
            "order": {"field": "k", "type": "quantitative"}
          },
          "layer": [
            {"mark": {"type": "bar"},
             "encoding": {
               "x": {"field": "v", "type": "quantitative", "stack": "zero", "scale": {"domain": [0, 100], "nice": false}, "axis": null},
               "color": {"field": "c", "type": "nominal",
                 "scale": {"domain": ["I don't know","Strongly Disagree","Strongly Agree","Somewhat Disagree","Somewhat Agree","Disagree","Agree"],
                           "range": ["#5e3a9e","#6781bd","#85234c","#e2d9e2","#cea78b","#9cb8c8","#b86053"]},
                 "legend": {"title": null, "orient": "none", "legendX": 89, "legendY": -244, "columns": 3,
                   "symbolType": "M-1,-0.358L1,-0.358L1,0.358L-1,0.358Z", "symbolSize": 15129, "symbolStrokeWidth": 0, "symbolOpacity": 1,
                   "labelFont": "DejaVu Sans", "labelFontSize": 60, "labelColor": "#111", "labelOffset": 25, "labelLimit": 2000,
                   "columnPadding": 74, "rowPadding": 19, "clipHeight": 60, "padding": 0}}
             }},
            {"mark": {"type": "text", "font": "DejaVu Sans", "fontSize": 25, "baseline": "middle", "align": "center"},
             "encoding": {
               "x": {"field": "v", "type": "quantitative", "stack": "zero", "bandPosition": 0.5, "scale": {"domain": [0, 100], "nice": false}, "axis": null},
               "detail": {"field": "c"},
               "text": {"field": "l", "type": "nominal"},
               "color": {"condition": {"test": "datum.c === 'Somewhat Disagree'", "value": "#a9a9a9"}, "value": "white"}
             }}
          ]
        }
      ]
    }
  ],
  "config": {
    "view": {"stroke": "#3a3a3a", "strokeWidth": 2.5},
    "axis": {"labelFont": "DejaVu Sans", "labelColor": "#111", "tickColor": "#333", "tickSize": 7, "tickWidth": 2, "labelPadding": 11, "domain": false, "grid": false, "labelLimit": 2000},
    "title": {"font": "DejaVu Sans", "fontSize": 62, "fontWeight": "normal", "color": "#111", "offset": 0}
  }
}
